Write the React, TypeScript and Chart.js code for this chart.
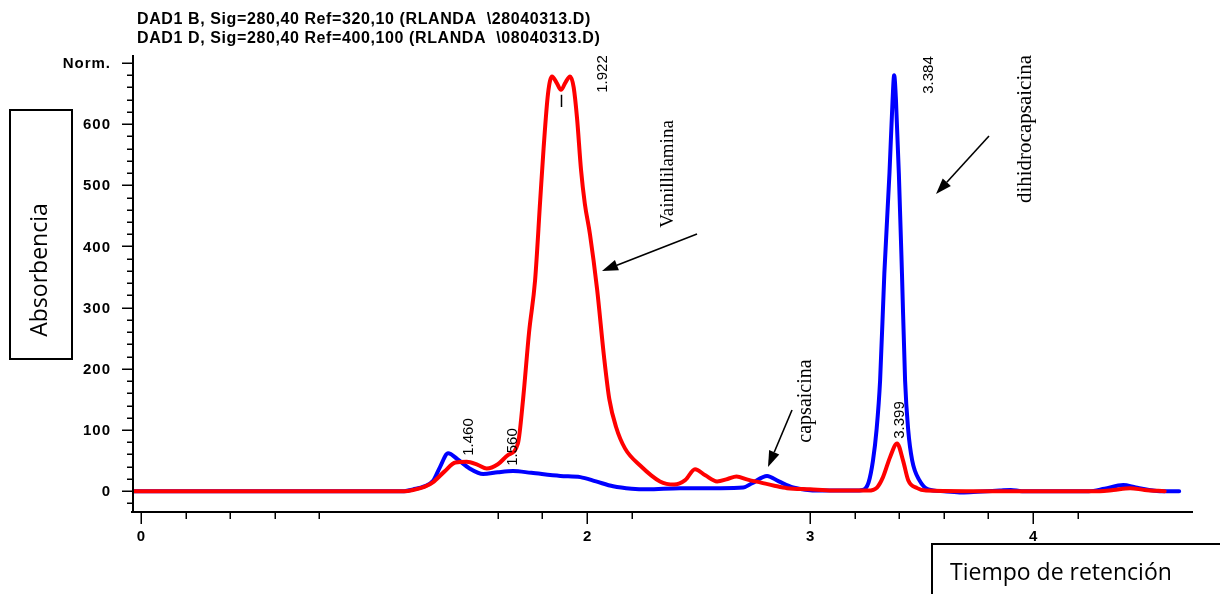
import React, { useEffect, useRef } from 'react';
import { Chart, registerables } from 'chart.js';

Chart.register(...registerables);

// ---- text ----
const titleLines = [
  'DAD1 B, Sig=280,40 Ref=320,10 (RLANDA  \\28040313.D)',
  'DAD1 D, Sig=280,40 Ref=400,100 (RLANDA  \\08040313.D)',
];
const yAxisTitle = 'Absorbencia';
const xAxisTitle = 'Tiempo de retención';

// ---- axes ----
const X_MIN = -0.036;
const X_MAX = 4.717;
const Y_MIN = -34;
const Y_MAX = 713;
const yTickValues = [0, 100, 200, 300, 400, 500, 600, 700];
const yTickLabels = ['0', '100', '200', '300', '400', '500', '600', 'Norm.'];
const xTickValues = [0, 2, 3, 4];
const xTickLabels = ['0', '2', '3', '4'];
const xMinorTickValues = [0.2, 0.4, 0.6, 0.8, 1.6, 1.8, 2.2, 3.2, 3.4, 3.6, 3.8, 4.2];

// ---- peaks & compounds ----
const peakLabels = ['1.460', '1.560', '1.922', '3.384', '3.399'];
const compoundNames = ['Vainillilamina', 'capsaicina', 'dihidrocapsaicina'];

// ---- series: DAD1 D (red) ----
const redTimes = [
  -0.036, 1.18, 1.22, 1.27, 1.31, 1.36, 1.41, 1.46, 1.51, 1.55, 1.6, 1.645, 1.69, 1.713,
  1.74, 1.767, 1.79, 1.805, 1.825, 1.843, 1.863, 1.883, 1.903, 1.924, 1.94, 1.955, 1.973,
  1.99, 2.013, 2.045, 2.076, 2.1, 2.13, 2.17, 2.238, 2.327, 2.39, 2.44, 2.484, 2.53, 2.583,
  2.63, 2.67, 2.72, 2.78, 2.84, 2.897, 3.0, 3.1, 3.26, 3.3, 3.327, 3.359, 3.39, 3.417, 3.44,
  3.48, 3.52, 3.7, 4.3, 4.36, 4.435, 4.5, 4.59,
];
const redValues = [
  0, 0, 2, 7, 15, 32, 47, 48, 43, 37, 44, 59, 78, 150,
  260, 345, 476, 560, 650, 678, 668, 656, 668, 678, 660, 610, 525,
  470, 420, 330, 220, 150, 105, 70, 42, 16, 11, 18, 36, 26, 16,
  20, 24, 19, 14, 9, 5, 3, 1, 1, 6, 23, 56, 78, 50, 18,
  5, 1, 0, 0, 2, 5, 2, 0,
];

// ---- series: DAD1 B (blue) ----
const blueTimes = [
  -0.036, 1.18, 1.22, 1.27, 1.31, 1.34, 1.377, 1.42, 1.47, 1.534, 1.6, 1.668, 1.75, 1.88,
  1.97, 2.04, 2.117, 2.2, 2.269, 2.417, 2.6, 2.7, 2.74, 2.807, 2.86, 2.924, 3.045, 3.2,
  3.236, 3.262, 3.282, 3.298, 3.314, 3.333, 3.356, 3.37, 3.377, 3.385, 3.398, 3.412, 3.426,
  3.44, 3.458, 3.49, 3.53, 3.6, 3.68, 3.75, 3.85, 3.9, 3.95, 4.25, 4.32, 4.404, 4.46,
  4.52, 4.58, 4.655,
];
const blueValues = [
  0, 0, 3, 8, 17, 39, 62, 52, 38, 28, 31, 33, 30, 25,
  23, 16, 8, 4, 3, 5, 5, 6, 13, 25, 16, 6, 1, 1,
  2, 14, 50, 100, 181, 356, 520, 640, 680, 640, 520, 356, 181,
  100, 50, 18, 3, 0, -2, -1, 1, 2, 0, 0, 4, 10, 6,
  2, 0, 0,
];

const SANS = '"Liberation Sans", Arial, sans-serif';
const SERIF = '"Liberation Serif", "Times New Roman", serif';
const BOX_FONT = '"Open Sans", "Noto Sans", sans-serif';

function rotatedText(ctx: CanvasRenderingContext2D, text: string, x: number, y: number, font: string) {
  ctx.save();
  ctx.translate(x, y);
  ctx.rotate(-Math.PI / 2);
  ctx.font = font;
  ctx.textAlign = 'center';
  ctx.textBaseline = 'alphabetic';
  ctx.fillText(text, 0, 0);
  ctx.restore();
}

function arrow(ctx: CanvasRenderingContext2D, x1: number, y1: number, x2: number, y2: number) {
  const ang = Math.atan2(y2 - y1, x2 - x1);
  const len = 16;
  const w = 5.5;
  const bx = x2 - len * Math.cos(ang);
  const by = y2 - len * Math.sin(ang);
  ctx.beginPath();
  ctx.moveTo(x1, y1);
  ctx.lineTo(bx, by);
  ctx.lineWidth = 1.6;
  ctx.stroke();
  ctx.beginPath();
  ctx.moveTo(x2, y2);
  ctx.lineTo(bx + w * Math.sin(ang), by - w * Math.cos(ang));
  ctx.lineTo(bx - w * Math.sin(ang), by + w * Math.cos(ang));
  ctx.closePath();
  ctx.fill();
}

const overlayPlugin = {
  id: 'overlay',
  afterDraw(chart: any) {
    const ctx: CanvasRenderingContext2D = chart.ctx;
    const xs = chart.scales.x;
    const ys = chart.scales.y;
    const area = chart.chartArea;
    ctx.save();
    ctx.fillStyle = '#000';
    ctx.strokeStyle = '#000';

    // axis lines
    ctx.lineWidth = 2;
    ctx.beginPath();
    ctx.moveTo(area.left, area.top);
    ctx.lineTo(area.left, area.bottom + 1);
    ctx.moveTo(area.left - 2, area.bottom);
    ctx.lineTo(area.right, area.bottom);
    ctx.stroke();

    // y ticks
    ctx.lineWidth = 1.5;
    ctx.beginPath();
    for (let v = -20; v <= 700; v += 20) {
      const y = Math.round(ys.getPixelForValue(v)) + 0.25;
      const major = v % 100 === 0;
      ctx.moveTo(area.left - (major ? 11 : 6), y);
      ctx.lineTo(area.left, y);
    }
    // x ticks
    xTickValues.forEach((t) => {
      const x = Math.round(xs.getPixelForValue(t)) + 0.25;
      ctx.moveTo(x, area.bottom);
      ctx.lineTo(x, area.bottom + 12);
    });
    xMinorTickValues.forEach((t) => {
      const x = Math.round(xs.getPixelForValue(t)) + 0.25;
      ctx.moveTo(x, area.bottom);
      ctx.lineTo(x, area.bottom + 7);
    });
    ctx.stroke();

    // tick labels
    (ctx as any).letterSpacing = '1px';
    ctx.font = `bold 15px ${SANS}`;
    ctx.textAlign = 'right';
    ctx.textBaseline = 'middle';
    yTickValues.forEach((v, i) => {
      ctx.fillText(yTickLabels[i], 111, ys.getPixelForValue(v) + 1);
    });
    ctx.textAlign = 'center';
    ctx.textBaseline = 'alphabetic';
    xTickValues.forEach((t, i) => {
      ctx.fillText(xTickLabels[i], xs.getPixelForValue(t) + 0.5, 541);
    });

    // title
    (ctx as any).letterSpacing = '0.6px';
    ctx.font = `bold 16px ${SANS}`;
    ctx.textAlign = 'left';
    ctx.fillText(titleLines[0], 137, 24);
    ctx.fillText(titleLines[1], 137, 43);
    (ctx as any).letterSpacing = '0px';

    // peak retention-time labels (baseline x, centre y)
    const peakLabelPos = [
      [473, 437],
      [517, 447],
      [607, 74],
      [933, 75],
      [904, 420],
    ];
    peakLabels.forEach((lab, i) => {
      rotatedText(ctx, lab, peakLabelPos[i][0], peakLabelPos[i][1], `15px ${SANS}`);
    });

    // apex marker
    ctx.lineWidth = 1.5;
    ctx.beginPath();
    const mx = Math.round(xs.getPixelForValue(1.883)) + 0.5;
    ctx.moveTo(mx, ys.getPixelForValue(648));
    ctx.lineTo(mx, ys.getPixelForValue(628));
    ctx.stroke();

    // compound names
    rotatedText(ctx, compoundNames[0], 673, 174, `19px ${SERIF}`);
    rotatedText(ctx, compoundNames[1], 811, 401, `20px ${SERIF}`);
    rotatedText(ctx, compoundNames[2], 1031, 129, `21px ${SERIF}`);

    // arrows
    arrow(ctx, 697, 234, 602, 271);
    arrow(ctx, 792, 410, 768, 467);
    arrow(ctx, 989, 136, 936, 194);

    // axis title boxes
    ctx.lineWidth = 2;
    ctx.strokeRect(10, 110, 62, 249);
    rotatedText(ctx, yAxisTitle, 47, 270, `23px ${BOX_FONT}`);
    ctx.strokeRect(932, 544, 400, 100);
    ctx.font = `23px ${BOX_FONT}`;
    ctx.textAlign = 'left';
    ctx.textBaseline = 'alphabetic';
    ctx.fillText(xAxisTitle, 950, 580);

    ctx.restore();
  },
};

export default function App() {
  const canvasRef = useRef<HTMLCanvasElement | null>(null);

  useEffect(() => {
    if (!canvasRef.current) return;
    const redData = redTimes.map((t, i) => ({ x: t, y: redValues[i] }));
    const blueData = blueTimes.map((t, i) => ({ x: t, y: blueValues[i] }));
    const chart = new Chart(canvasRef.current, {
      type: 'line',
      data: {
        datasets: [
          {
            label: 'DAD1 D',
            data: redData,
            borderColor: 'rgb(255,0,0)',
            borderWidth: 4,
            pointRadius: 0,
            cubicInterpolationMode: 'monotone',
            fill: false,
            borderJoinStyle: 'round',
            borderCapStyle: 'round',
          },
          {
            label: 'DAD1 B',
            data: blueData,
            borderColor: 'rgb(0,0,255)',
            borderWidth: 4,
            pointRadius: 0,
            cubicInterpolationMode: 'monotone',
            fill: false,
            borderJoinStyle: 'round',
            borderCapStyle: 'round',
          },
        ],
      },
      options: {
        animation: false,
        responsive: true,
        maintainAspectRatio: false,
        events: [],
        layout: { padding: { top: 55, right: 27, left: 0, bottom: 0 } },
        plugins: {
          legend: { display: false },
          tooltip: { enabled: false },
          title: { display: false },
        },
        scales: {
          x: {
            type: 'linear',
            min: X_MIN,
            max: X_MAX,
            ticks: { display: false },
            grid: { display: false, drawTicks: false },
            border: { display: false },
            afterFit: (s: any) => {
              s.height = 82;
            },
          },
          y: {
            type: 'linear',
            min: Y_MIN,
            max: Y_MAX,
            ticks: { display: false },
            grid: { display: false, drawTicks: false },
            border: { display: false },
            afterFit: (s: any) => {
              s.width = 133;
            },
          },
        },
      },
      plugins: [overlayPlugin],
    });
    return () => chart.destroy();
  }, []);

  return (
    <div style={{ position: 'absolute', left: 0, top: 0, width: 1220, height: 594, background: '#fff', overflow: 'hidden' }}>
      <canvas ref={canvasRef} />
    </div>
  );
}
